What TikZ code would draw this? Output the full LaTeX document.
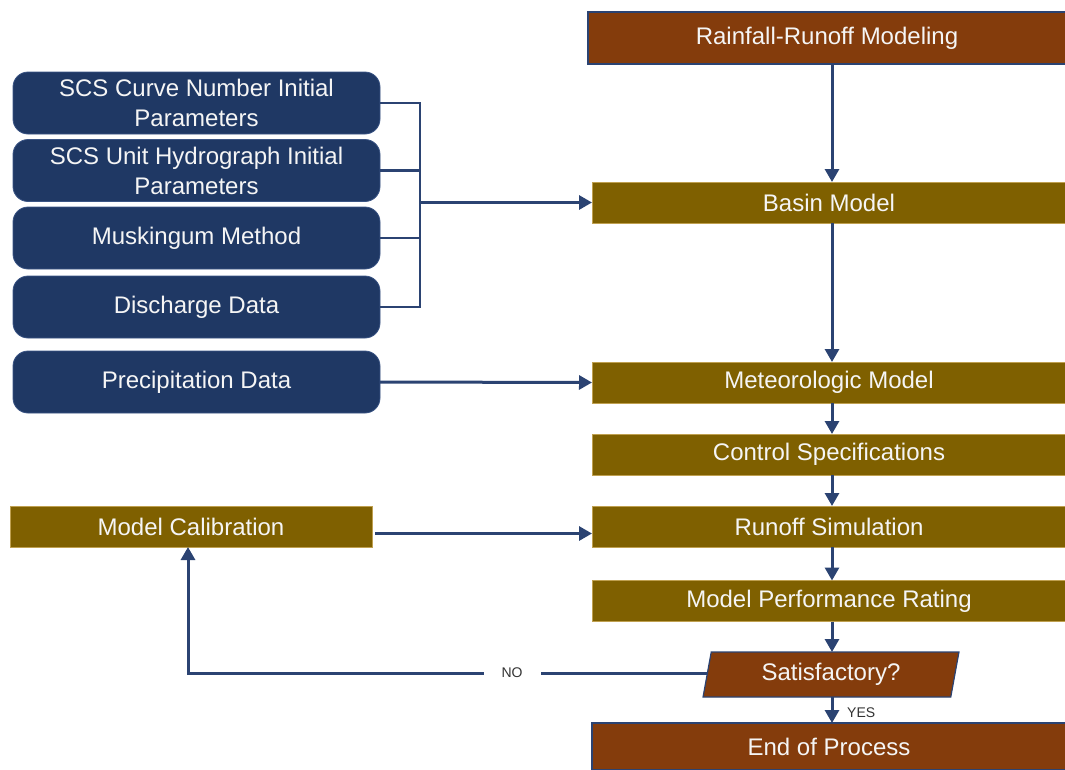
\documentclass[tikz,border=0pt]{standalone}
\usepackage{fontspec}
\setmainfont{Liberation Sans}
\usetikzlibrary{shapes.geometric,arrows.meta}
\definecolor{brownbox}{HTML}{843C0C}
\definecolor{goldbox}{HTML}{7F6000}
\definecolor{goldedge}{HTML}{BFA050}
\definecolor{bluebox}{HTML}{1F3864}
\definecolor{blueedge}{HTML}{3A5484}
\definecolor{linecol}{HTML}{2B4372}
\begin{document}
\begin{tikzpicture}[x=1pt,y=-1pt,
  base/.style={inner sep=0pt, outer sep=0pt, text=white!96!black, font=\fontsize{24}{30}\selectfont, align=center},
  goldstep/.style={base, fill=goldbox, draw=goldedge, line width=0.8pt, minimum width=474, minimum height=41},
  brownstep/.style={base, fill=brownbox, draw=linecol, line width=1.2pt},
  inbox/.style={base, fill=bluebox, draw=blueedge, line width=0.8pt, rounded corners=15pt, minimum width=367, minimum height=62},
  arr/.style={draw=linecol, line width=3pt, -{Triangle[length=13pt,width=14pt]}},
  brk/.style={draw=linecol, line width=2.5pt},
  lbl/.style={inner sep=0pt, font=\fontsize{14}{16}\selectfont, text=black!80}]
\useasboundingbox (0,0) rectangle (1065,769);

% right column
\node[brownstep, minimum width=478, minimum height=52] (rr) at (827,38) {Rainfall-Runoff Modeling};
\node[goldstep] (bm) at (829,202.5) {Basin Model};
\node[goldstep] (mm) at (829,382.5) {Meteorologic Model};
\node[goldstep] (cs) at (829,454.5) {Control Specifications};
\node[goldstep] (rs) at (829,526.5) {Runoff Simulation};
\node[goldstep] (mp) at (829,601) {Model Performance Rating};
\node[base, trapezium, trapezium stretches=true, trapezium left angle=78, trapezium right angle=102,
      fill=brownbox, draw=linecol, line width=1.2pt, minimum width=256, minimum height=45] (sat) at (831,674.5) {Satisfactory?};
\node[brownstep, minimum width=474, minimum height=47] (eop) at (829,746.5) {End of Process};

% left inputs
\node[inbox] (scn) at (196.5,103) {SCS Curve Number Initial\\Parameters};
\node[inbox] (suh) at (196.5,170.5) {SCS Unit Hydrograph Initial\\Parameters};
\node[inbox] (mus) at (196.5,238) {Muskingum Method};
\node[inbox] (dis) at (196.5,307) {Discharge Data};
\node[inbox] (pre) at (196.5,382) {Precipitation Data};
\node[goldstep, minimum width=362] (mc) at (191,526.5) {Model Calibration};

% helper coordinates
\coordinate (sp) at (832,0);
\coordinate (br) at (420,0);
\coordinate (lx) at (188,0);

% main spine
\draw[arr] (rr.south -| sp) -- (bm.north -| sp);
\draw[arr] (bm.south -| sp) -- (mm.north -| sp);
\draw[arr] (mm.south -| sp) -- (cs.north -| sp);
\draw[arr] (cs.south -| sp) -- (rs.north -| sp);
\draw[arr] (rs.south -| sp) -- (mp.north -| sp);
\draw[arr] (mp.south -| sp) -- (sat.north -| sp);
\draw[arr] (sat.south -| sp) -- (eop.north -| sp);
\node[lbl, anchor=west] (yes) at (847,713) {YES};

% bracket
\draw[brk] (scn.east) -- (scn.east -| br) -- (dis.east -| br) -- (dis.east);
\draw[brk] (suh.east) -- (suh.east -| br);
\draw[brk] (mus.east) -- (mus.east -| br);
\draw[arr] (bm.west -| br) -- (bm.west);

% precipitation
\draw[arr] (pre.east) -- (mm.west);

% calibration
\draw[arr] ([shift={(3pt,-7pt)}]mc.east) -- ([yshift=-7pt]rs.west);

% NO loop
\draw[arr] ([yshift=1.5pt]sat.west) -| (mc.south -| lx);
\node[lbl, fill=white, minimum width=57, minimum height=20] (no) at (512,673) {NO};
\end{tikzpicture}
\end{document}
